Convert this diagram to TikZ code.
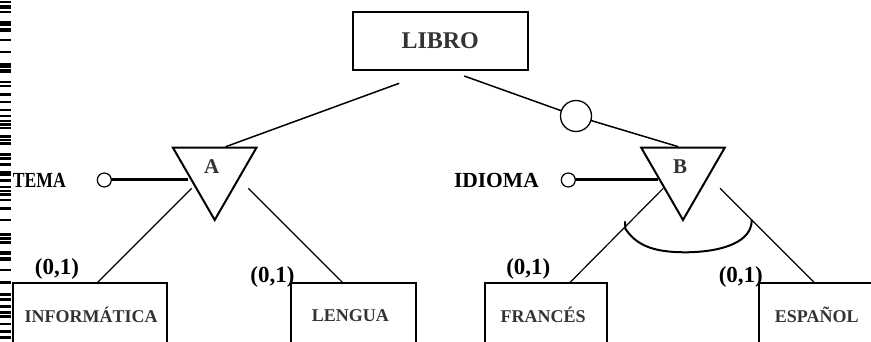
\documentclass[tikz,border=0pt]{standalone}
\usepackage{fontspec}
\setmainfont{Liberation Serif}
\usetikzlibrary{shapes.geometric,calc}
\definecolor{graytext}{HTML}{333333}
\newcommand{\fs}[1]{\fontsize{#1}{#1}\selectfont\bfseries}
\tikzset{
  entity/.style={draw, line width=2pt, inner sep=0pt, outer sep=0pt, text=graytext},
  subent/.style={entity, minimum height=64pt, font=\fs{18}},
  hier/.style={regular polygon, regular polygon sides=3, shape border rotate=180,
    draw, line width=2pt, minimum size=96.4pt, inner sep=0pt, outer sep=0pt},
  attr/.style={circle, draw, line width=1.2pt, minimum size=14pt, inner sep=0pt, outer sep=0pt},
  bigcirc/.style={circle, draw, line width=1.3pt, minimum size=31pt, inner sep=0pt, outer sep=0pt},
  link/.style={line width=1.5pt},
  sublink/.style={line width=1.2pt},
  attrlink/.style={line width=3pt},
  card/.style={font=\fs{23}, inner sep=0pt},
  attrname/.style={font=\fs{21.5}, inner sep=0pt},
  stripbar/.style={fill=black}
}
\begin{document}
\begin{tikzpicture}[x=1pt,y=-1pt]
\useasboundingbox (0,0) rectangle (871,342);
\clip (0,0) rectangle (871,342);

% dashed strip along the left edge
\foreach \a/\b in {1/3.3,5/7,7.5/9,11/13,21/26,28/32,39/41,51/53,63/68,69/73,81/83,85/87,
  93/96,101/103,109/111,115/117,120/122.5,123.5/126,127/129,135/138,139/141.5,142.5/145,
  153/156,157/160,163/166,171/176,179/182,186/188,190/192.5,193.5/196,199/201,207/210,
  219/221,233/236,237/240,241/244,251/255,257/261,269/271,281/284,293/296,298/301,
  305/308,311/314,315/318,323/325,330/333,336/339}
  \fill[stripbar] (0,\a) rectangle (11,\b);

% entities
\node[entity, minimum width=175pt, minimum height=58.6pt, font=\fs{24}] (libro) at (440.2,41) {LIBRO};
\node[subent, minimum width=154pt] (inf) at (89.7,315.2) {\hspace*{3pt}INFORMÁTICA};
\node[subent, minimum width=124.7pt] (len) at (353.3,315.2) {\hspace*{-6pt}LENGUA};
\node[subent, minimum width=122.3pt] (fra) at (546.2,315.2) {\hspace*{-6pt}FRANCÉS};
\node[subent, minimum width=115pt] (esp) at (816.7,315.2) {ESPAÑOL};

% hierarchies
\node[hier, label={[font=\fs{21}, text=graytext, xshift=-3pt, yshift=5pt]center:A}] (A) at (214.7,171.8) {};
\node[hier, label={[font=\fs{21}, text=graytext, xshift=-3pt, yshift=5pt]center:B}] (B) at (683,171.8) {};

% attributes
\node[attr] (tc) at (104.3,180) {};
\node[attrname, anchor=east] (tema) at (66,180) {\scalebox{0.82}[1]{TEMA}};
\node[attr] (ic) at (568.3,180) {};
\node[attrname, anchor=east] (idioma) at (539,180) {IDIOMA};
\node[bigcirc] (opt) at (576,116) {};

% cardinalities
\node[card] (c1) at (57,269.3) {(0,1)};
\node[card] (c2) at (272.5,276.7) {(0,1)};
\node[card] (c3) at (528.3,269.3) {(0,1)};
\node[card] (c4) at (740.8,276.7) {(0,1)};

% connectors
\draw[link] ($(libro.south)+(-41,13)$) -- ($(A.center)+(11,-25.1)$);
\draw[link] ($(libro.south)+(24,5.7)$) -- (opt);
\draw[link] (opt) -- ($(B.center)+(-4.7,-25.1)$);
\draw[attrlink] (tc) -- ($(A.center)+(-26.4,8.2)$);
\draw[attrlink] (ic) -- ($(B.center)+(-24.7,8.2)$);
\draw[sublink] ($(A.center)+(-23,16.5)$) -- ($(inf.north)+(7,0)$);
\draw[sublink] ($(A.center)+(33.6,16.5)$) -- ($(len.north)+(-10,0)$);
\draw[sublink] ($(B.center)+(-19.7,16.5)$) -- ($(fra.north)+(23.1,0)$);
\draw[sublink] ($(B.center)+(37,16.5)$) -- ($(esp.north)+(-1.7,0)$);

% exclusivity arc under B
\draw[line width=2pt, line cap=round]
  ($(B.center)+(-58,50)$) -- ($(B.center)+(-57.6,57)$)
  .. controls ($(B.center)+(-45,76)$) and ($(B.center)+(-25,80.5)$) .. ($(B.center)+(3.7,80.5)$)
  .. controls ($(B.center)+(40,80)$) and ($(B.center)+(69,70)$) .. ($(B.center)+(68.7,48.2)$);
\end{tikzpicture}
\end{document}
